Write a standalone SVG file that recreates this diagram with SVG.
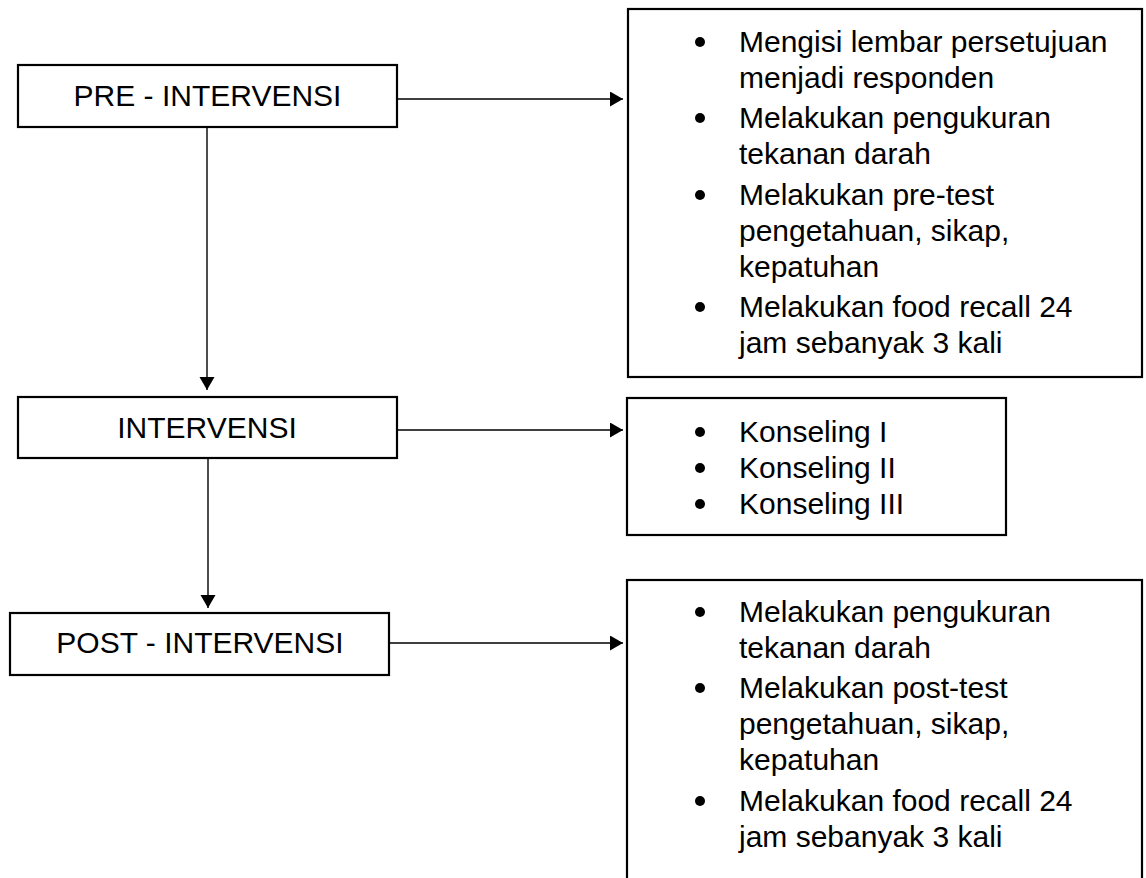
<svg xmlns="http://www.w3.org/2000/svg" width="1146" height="878" viewBox="0 0 1146 878">
<style>
.box{fill:#fff;stroke:#000;stroke-width:2.2}
.t{font-family:"Liberation Sans",Arial,sans-serif;font-size:30px;fill:#000}
.c{text-anchor:middle}
.con{stroke:#000;stroke-width:1.4;fill:none}
.b{fill:#000}
</style>
<defs>
<marker id="ah" markerUnits="userSpaceOnUse" markerWidth="14" markerHeight="16" refX="13" refY="7.5" orient="auto">
<path d="M0,0 L13,7.5 L0,15 Z" fill="#000"/>
</marker>
</defs>
<g id="connectors">
<line class="con" x1="397" y1="99" x2="623" y2="99" marker-end="url(#ah)"/>
<line class="con" x1="397" y1="430" x2="623" y2="430" marker-end="url(#ah)"/>
<line class="con" x1="389" y1="643" x2="623" y2="643" marker-end="url(#ah)"/>
<line class="con" x1="207" y1="127" x2="207" y2="390" marker-end="url(#ah)"/>
<line class="con" x1="208" y1="458" x2="208" y2="608" marker-end="url(#ah)"/>
</g>
<g id="pre">
<rect class="box" x="18" y="65" width="379" height="62"/>
<text class="t c" x="207.5" y="106">PRE - INTERVENSI</text>
</g>
<g id="intervensi">
<rect class="box" x="18" y="397" width="379" height="61"/>
<text class="t c" x="207" y="438">INTERVENSI</text>
</g>
<g id="post">
<rect class="box" x="10" y="613" width="379" height="62"/>
<text class="t c" x="200" y="653">POST - INTERVENSI</text>
</g>
<g id="pre-detail">
<rect class="box" x="628" y="9" width="514" height="368"/>
<circle class="b" cx="700" cy="42" r="5"/>
<circle class="b" cx="700" cy="118" r="5"/>
<circle class="b" cx="700" cy="195" r="5"/>
<circle class="b" cx="700" cy="307" r="5"/>
<text class="t" x="739" y="52">Mengisi lembar persetujuan</text>
<text class="t" x="739" y="88">menjadi responden</text>
<text class="t" x="739" y="128">Melakukan pengukuran</text>
<text class="t" x="739" y="164">tekanan darah</text>
<text class="t" x="739" y="205">Melakukan pre-test</text>
<text class="t" x="739" y="241">pengetahuan, sikap,</text>
<text class="t" x="739" y="277">kepatuhan</text>
<text class="t" x="739" y="317">Melakukan food recall 24</text>
<text class="t" x="739" y="353">jam sebanyak 3 kali</text>
</g>
<g id="intervensi-detail">
<rect class="box" x="627" y="398" width="379" height="137"/>
<circle class="b" cx="700" cy="432" r="5"/>
<circle class="b" cx="700" cy="468" r="5"/>
<circle class="b" cx="700" cy="504" r="5"/>
<text class="t" x="739" y="442">Konseling I</text>
<text class="t" x="739" y="478">Konseling II</text>
<text class="t" x="739" y="514">Konseling III</text>
</g>
<g id="post-detail">
<rect class="box" x="627" y="580" width="515" height="320"/>
<circle class="b" cx="700" cy="612" r="5"/>
<circle class="b" cx="700" cy="688" r="5"/>
<circle class="b" cx="700" cy="801" r="5"/>
<text class="t" x="739" y="622">Melakukan pengukuran</text>
<text class="t" x="739" y="658">tekanan darah</text>
<text class="t" x="739" y="698">Melakukan post-test</text>
<text class="t" x="739" y="734">pengetahuan, sikap,</text>
<text class="t" x="739" y="770">kepatuhan</text>
<text class="t" x="739" y="811">Melakukan food recall 24</text>
<text class="t" x="739" y="847">jam sebanyak 3 kali</text>
</g>
</svg>
